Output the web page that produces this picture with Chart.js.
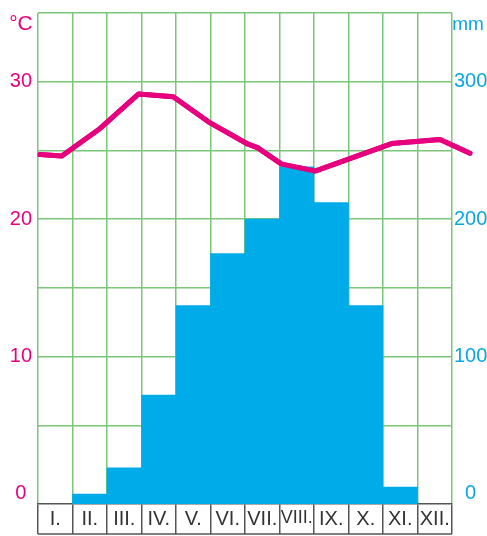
<!DOCTYPE html>
<html>
<head>
<meta charset="utf-8">
<script src="https://cdn.jsdelivr.net/npm/chart.js@4/dist/chart.umd.min.js"></script>
<style>
  body { margin: 0; background: #fff; }
</style>
</head>
<body>
<canvas id="climateChart" width="487" height="536"></canvas>
<script>
// Months along the bottom
const months = ['I.', 'II.', 'III.', 'IV.', 'V.', 'VI.', 'VII.', 'VIII.', 'IX.', 'X.', 'XI.', 'XII.'];

// Precipitation (mm) per month, null = no bar
const precipitation = [null, 0, 19, 72, 137, 175, 200, 238, 212, 137, 5, null];

// Temperature curve (°C), drawn freehand so x is in month units (0 = I.)
const tempX = [-0.44, 0.19, 1.30, 2.41, 3.42, 4.49, 5.55, 5.86, 6.56, 7.53, 9.75, 11.15, 12.02];
const tempC = [24.7, 24.6, 26.6, 29.1, 28.9, 27.0, 25.5, 25.2, 24.0, 23.5, 25.5, 25.8, 24.8];

// Axis ticks
const tempGrid = [0, 5, 10, 15, 20, 25, 30, 35];
const tempLabels = [0, 10, 20, 30];
const rainLabels = [0, 100, 200, 300];

// Axis ranges (the picture's bars start a little below zero)
const tempMin = -0.73, tempMax = 35;
const rainMin = -7.3, rainMax = 350;

const pink = '#e6007e';
const cyan = '#0aa6e3';
const green = '#7cc679';
const font = '"Liberation Sans", Arial, sans-serif';

// Extra drawing: line above the grid, bottom edge of the month boxes, unit labels
const extras = {
  id: 'extras',
  afterDraw(chart) {
    const ctx = chart.ctx;
    const area = chart.chartArea;
    chart.getDatasetMeta(1).controller.draw();

    ctx.save();
    ctx.strokeStyle = '#555';
    ctx.lineWidth = 1.5;
    ctx.beginPath();
    ctx.moveTo(area.left, chart.scales.x.bottom - 2);
    ctx.lineTo(area.right, chart.scales.x.bottom - 2);
    ctx.stroke();

    ctx.font = '21px ' + font;
    ctx.textAlign = 'center';
    ctx.textBaseline = 'alphabetic';
    ctx.fillStyle = pink;
    ctx.fillText('°C', 21, 30);
    ctx.font = '19px ' + font;
    ctx.fillStyle = cyan;
    ctx.fillText('mm', 468, 30);
    ctx.restore();
  }
};

const ctx = document.getElementById('climateChart').getContext('2d');
new Chart(ctx, {
  type: 'bar',
  data: {
    labels: months,
    datasets: [{
      type: 'bar',
      data: precipitation.map(v => v === null ? null : [rainMin, v]),
      backgroundColor: '#00abe9',
      borderWidth: 0,
      grouped: false,
      barPercentage: 1,
      categoryPercentage: 1,
      xAxisID: 'x',
      yAxisID: 'y2'
    }, {
      type: 'line',
      data: tempX.map((x, i) => ({ x: x, y: tempC[i] })),
      borderColor: pink,
      borderWidth: 5,
      borderJoinStyle: 'round',
      borderCapStyle: 'round',
      pointRadius: 0,
      tension: 0,
      clip: false,
      xAxisID: 'x2',
      yAxisID: 'y'
    }]
  },
  options: {
    responsive: false,
    animation: false,
    layout: { padding: 0 },
    plugins: {
      legend: { display: false },
      tooltip: { enabled: false }
    },
    scales: {
      x: {
        type: 'category',
        offset: true,
        z: 1,
        grid: {
          offset: true,
          color: green,
          lineWidth: 1.5,
          tickLength: 30,
          tickColor: '#555'
        },
        border: { color: '#555', width: 1.5 },
        ticks: {
          color: '#333',
          font: c => ({ family: font, size: months[c.index] && months[c.index].length > 4 ? 18 : 20 }),
          padding: -27,
          maxRotation: 0,
          autoSkip: false
        },
        afterFit: s => { s.height = 32; }
      },
      x2: {
        type: 'linear',
        display: false,
        offset: false,
        min: -0.5,
        max: 11.5
      },
      y: {
        position: 'left',
        min: tempMin,
        max: tempMax,
        z: 1,
        afterBuildTicks: s => { s.ticks = tempGrid.map(v => ({ value: v })); },
        ticks: {
          color: pink,
          font: { family: font, size: 20 },
          crossAlign: 'center',
          padding: 6,
          callback: v => tempLabels.includes(v) ? v : ''
        },
        grid: {
          color: c => c.tick && c.tick.value === 0 ? 'rgba(0,0,0,0)' : green,
          lineWidth: 1.5,
          drawTicks: false
        },
        border: { display: false },
        afterFit: s => { s.width = 38; s.paddingTop = 13; s.paddingBottom = 0; }
      },
      y2: {
        position: 'right',
        min: rainMin,
        max: rainMax,
        afterBuildTicks: s => { s.ticks = rainLabels.map(v => ({ value: v })); },
        ticks: {
          color: cyan,
          font: { family: font, size: 20 },
          crossAlign: 'center',
          padding: 2
        },
        grid: { display: false, drawTicks: false },
        border: { display: false },
        afterFit: s => { s.width = 35; s.paddingTop = 13; s.paddingBottom = 0; }
      }
    }
  },
  plugins: [extras]
});
</script>
</body>
</html>
